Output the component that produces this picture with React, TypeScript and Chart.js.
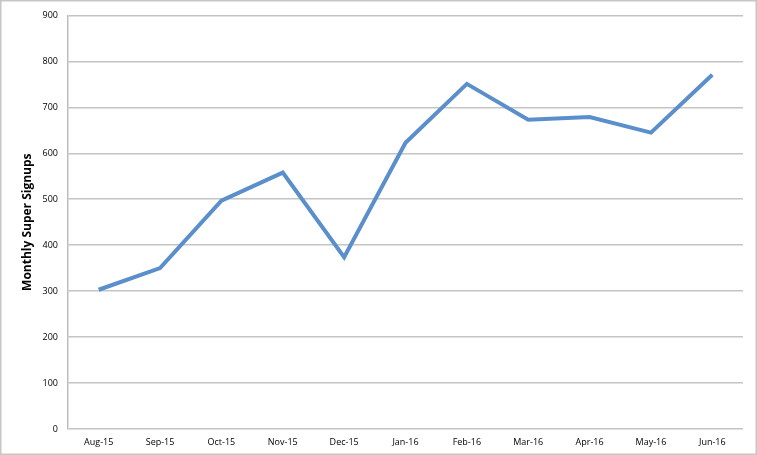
import React, { useEffect, useRef } from "react";
import { Chart, registerables } from "chart.js";

Chart.register(...registerables);

const categories = ["Aug-15", "Sep-15", "Oct-15", "Nov-15", "Dec-15", "Jan-16", "Feb-16", "Mar-16", "Apr-16", "May-16", "Jun-16"];
const signups = [303, 350, 497, 558, 374, 623, 751, 673, 679, 645, 771];
const yTitle = "Monthly Super Signups";

const borderPlugin = {
  id: "outerBorder",
  afterDraw(chart: any) {
    const ctx = chart.ctx;
    ctx.save();
    ctx.strokeStyle = "#c6c6c6";
    ctx.lineWidth = 1.5;
    ctx.strokeRect(0.75, 0.75, chart.width - 1.5, chart.height - 1.5);
    ctx.restore();
  },
};

export default function App() {
  const ref = useRef<HTMLCanvasElement>(null);
  useEffect(() => {
    document.body.style.margin = "0";
    const chart = new Chart(ref.current!, {
      type: "line",
      data: {
        labels: categories,
        datasets: [
          {
            data: signups,
            borderColor: "#5b8fcb",
            borderWidth: 4,
            pointRadius: 0,
            tension: 0,
            fill: false,
          },
        ],
      },
      options: {
        animation: false,
        responsive: false,
        maintainAspectRatio: false,
        layout: { padding: { top: 14, right: 14, bottom: 0, left: 0 } },
        plugins: { legend: { display: false }, tooltip: { enabled: false } },
        scales: {
          x: {
            offset: true,
            grid: { display: false, drawTicks: false },
            border: { display: false },
            ticks: {
              color: "#000",
              font: { family: "'Open Sans', 'Liberation Sans', sans-serif", size: 9 },
              padding: 8,
              maxRotation: 0,
              autoSkip: false,
            },
            afterFit(scale: any) {
              scale.height = 26;
            },
          },
          y: {
            min: 0,
            max: 900,
            ticks: {
              stepSize: 100,
              color: "#000",
              font: { family: "'Open Sans', 'Liberation Sans', sans-serif", size: 9 },
              padding: 10,
            },
            grid: { color: "#c4c4c4", lineWidth: 1.5, drawTicks: false },
            border: { display: true, color: "#bdbdbd", width: 1.5 },
            title: {
              display: true,
              text: yTitle,
              color: "#000",
              font: { family: "'Open Sans', 'Liberation Sans', sans-serif", size: 12, weight: "bold" },
              padding: { top: 20, bottom: 6 },
            },
            afterFit(scale: any) {
              scale.width = 68;
            },
          },
        },
      },
      plugins: [borderPlugin],
    });
    return () => chart.destroy();
  }, []);
  return <canvas ref={ref} width={757} height={455} style={{ display: "block" }} />;
}
